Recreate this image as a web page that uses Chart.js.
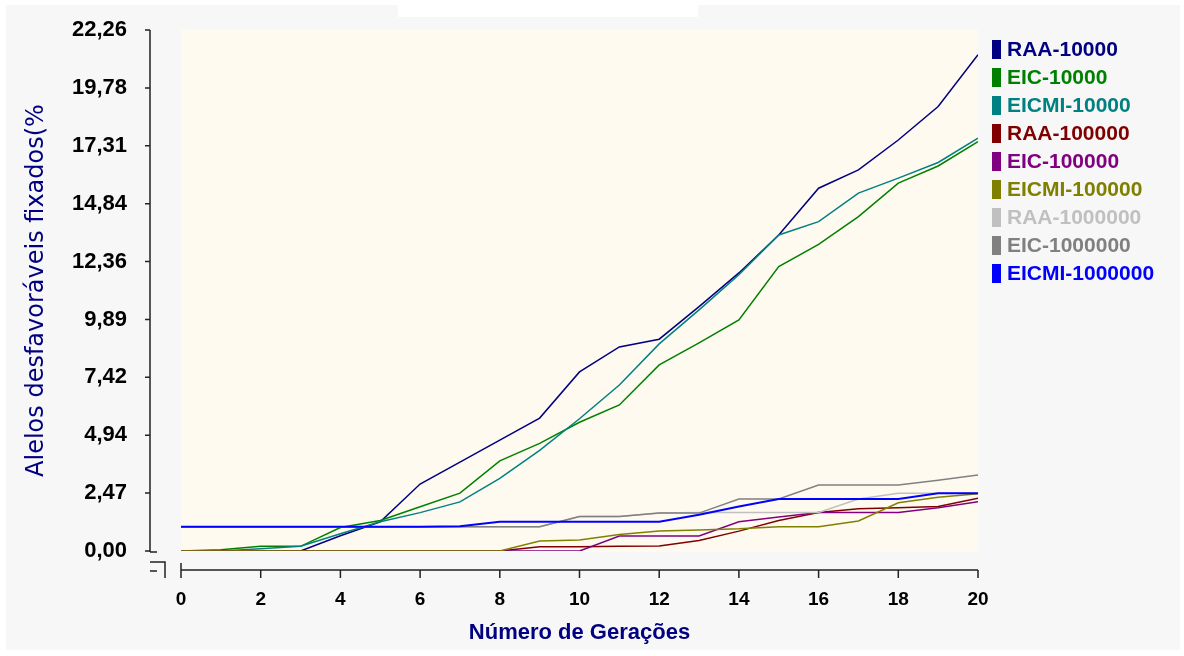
<!DOCTYPE html>
<html>
<head>
<meta charset="utf-8">
<script src="https://cdn.jsdelivr.net/npm/chart.js@4.4.1/dist/chart.umd.min.js"></script>
<style>
  html, body { margin: 0; padding: 0; background: #fff; }
  #wrap { width: 1184px; height: 656px; }
</style>
</head>
<body>
<div id="wrap"><canvas id="chart" width="1184" height="656"></canvas></div>
<script>
// Geração (eixo X)
const generations = [0, 1, 2, 3, 4, 5, 6, 7, 8, 9, 10, 11, 12, 13, 14, 15, 16, 17, 18, 19, 20];
const xTickLabels = ['0', '2', '4', '6', '8', '10', '12', '14', '16', '18', '20'];

// Eixo Y
const yTickValues = [0, 2.4733, 4.9467, 7.42, 9.8933, 12.3667, 14.84, 17.3133, 19.7867, 22.26];
const yTickLabels = ['0,00', '2,47', '4,94', '7,42', '9,89', '12,36', '14,84', '17,31', '19,78', '22,26'];

// Séries (% de alelos desfavoráveis fixados)
const raa10000     = [0, 0, 0, 0, 0.65, 1.25, 2.86, 3.8, 4.74, 5.68, 7.65, 8.72, 9.05, 10.44, 11.88, 13.5, 15.5, 16.28, 17.56, 18.99, 21.2];
const eic10000     = [0, 0.05, 0.2, 0.2, 1.0, 1.3, 1.89, 2.47, 3.85, 4.6, 5.5, 6.24, 7.95, 8.89, 9.87, 12.15, 13.1, 14.29, 15.72, 16.45, 17.49];
const eicmi10000   = [0, 0, 0.1, 0.2, 0.74, 1.25, 1.64, 2.1, 3.1, 4.3, 5.65, 7.09, 8.85, 10.3, 11.8, 13.5, 14.07, 15.29, 15.93, 16.6, 17.64];
const raa100000    = [0, 0, 0, 0, 0, 0, 0, 0, 0, 0.18, 0.18, 0.2, 0.21, 0.45, 0.85, 1.3, 1.64, 1.8, 1.85, 1.9, 2.25];
const eic100000    = [0, 0, 0, 0, 0, 0, 0, 0, 0, 0, 0, 0.64, 0.64, 0.64, 1.25, 1.45, 1.65, 1.65, 1.65, 1.85, 2.1];
const eicmi100000  = [0, 0, 0, 0, 0, 0, 0, 0, 0, 0.43, 0.47, 0.7, 0.85, 0.9, 0.95, 1.04, 1.04, 1.28, 2.06, 2.3, 2.45];
const raa1000000   = [1.04, 1.04, 1.04, 1.04, 1.04, 1.04, 1.04, 1.04, 1.04, 1.04, 1.47, 1.47, 1.62, 1.65, 1.65, 1.65, 1.65, 2.22, 2.47, 2.47, 2.47];
const eic1000000   = [1.04, 1.04, 1.04, 1.04, 1.04, 1.04, 1.04, 1.04, 1.04, 1.04, 1.47, 1.47, 1.62, 1.62, 2.22, 2.22, 2.82, 2.82, 2.82, 3.02, 3.25];
const eicmi1000000 = [1.04, 1.04, 1.04, 1.04, 1.04, 1.04, 1.04, 1.06, 1.25, 1.25, 1.25, 1.25, 1.25, 1.55, 1.9, 2.22, 2.22, 2.22, 2.22, 2.47, 2.47];

const seriesNames = ['RAA-10000', 'EIC-10000', 'EICMI-10000', 'RAA-100000', 'EIC-100000', 'EICMI-100000', 'RAA-1000000', 'EIC-1000000', 'EICMI-1000000'];
const seriesData = [raa10000, eic10000, eicmi10000, raa100000, eic100000, eicmi100000, raa1000000, eic1000000, eicmi1000000];
const seriesColors = ['#000080', '#008000', '#008080', '#800000', '#800080', '#808000', '#c0c0c0', '#808080', '#0000ff'];

const NAVY = '#000080';
const AXIS = '#222';

const datasets = seriesNames.map((name, i) => ({
    label: name,
    data: generations.map((g, k) => ({ x: g, y: seriesData[i][k] })),
    borderColor: seriesColors[i],
    backgroundColor: seriesColors[i],
    borderWidth: i === 8 ? 2 : 1.5,
    pointRadius: 0,
    tension: 0,
    order: seriesNames.length - i   // later series on top
}));

// background panel, plot area, custom axes and legend
const framePlugin = {
    id: 'frame',
    beforeDraw(chart) {
        const { ctx, chartArea: a } = chart;
        ctx.save();
        ctx.fillStyle = '#ffffff';
        ctx.fillRect(0, 0, chart.width, chart.height);
        ctx.fillStyle = '#f7f7f7';
        ctx.fillRect(6, 5, 1174, 645);
        ctx.fillStyle = '#ffffff';
        ctx.fillRect(398, 0, 300, 17);
        ctx.fillStyle = '#fefaf0';
        ctx.fillRect(a.left, a.top, a.right - a.left, a.bottom - a.top + 1);
        ctx.restore();
    },
    afterDraw(chart) {
        const { ctx, scales: { x, y } } = chart;
        ctx.save();
        ctx.strokeStyle = AXIS;
        ctx.lineWidth = 1.5;

        // y axis
        const yAxisX = 150;
        ctx.beginPath();
        ctx.moveTo(yAxisX, y.getPixelForValue(y.max));
        ctx.lineTo(yAxisX, y.getPixelForValue(0) + 1);
        y.ticks.forEach(t => {
            const py = y.getPixelForValue(t.value);
            ctx.moveTo(yAxisX - 5, py);
            ctx.lineTo(yAxisX, py);
        });
        // foot of y axis + break mark
        const y0 = y.getPixelForValue(0) + 1;
        ctx.moveTo(yAxisX, y0);
        ctx.lineTo(yAxisX + 7, y0);
        ctx.moveTo(yAxisX, y0 + 10);
        ctx.lineTo(yAxisX + 15, y0 + 10);
        ctx.lineTo(yAxisX + 15, y0 + 26);
        ctx.moveTo(yAxisX, y0 + 19);
        ctx.lineTo(yAxisX + 7, y0 + 19);

        // x axis
        const xAxisY = 570;
        ctx.moveTo(x.getPixelForValue(0), xAxisY - 7);
        ctx.lineTo(x.getPixelForValue(0), xAxisY + 8);
        ctx.moveTo(x.getPixelForValue(0), xAxisY);
        ctx.lineTo(x.getPixelForValue(20), xAxisY);
        x.ticks.forEach(t => {
            const px = x.getPixelForValue(t.value);
            ctx.moveTo(px, xAxisY);
            ctx.lineTo(px, xAxisY + 8);
        });
        ctx.stroke();

        // legend
        ctx.font = 'bold 21px "Liberation Sans", Arial, sans-serif';
        ctx.textBaseline = 'middle';
        ctx.textAlign = 'left';
        chart.data.datasets.forEach((ds, i) => {
            const cy = 49 + i * 28;
            ctx.fillStyle = ds.borderColor;
            ctx.fillRect(992, cy - 9, 9, 19);
            ctx.fillText(ds.label, 1007, cy + 1);
        });
        ctx.restore();
    }
};

new Chart(document.getElementById('chart'), {
    type: 'line',
    data: { datasets: datasets },
    options: {
        responsive: false,
        animation: false,
        layout: { padding: { left: 0, top: 30, right: 206, bottom: 0 } },
        plugins: { legend: { display: false }, tooltip: { enabled: false } },
        scales: {
            x: {
                type: 'linear',
                min: 0,
                max: 20,
                afterFit: s => { s.height = 105; },
                afterBuildTicks: s => { s.ticks = xTickLabels.map(l => ({ value: Number(l) })); },
                grid: { display: false, drawTicks: false },
                border: { display: false },
                ticks: {
                    padding: 37,
                    color: '#000',
                    font: { family: '"Liberation Sans", Arial, sans-serif', size: 19, weight: 'bold' },
                    callback: (v, i) => xTickLabels[i]
                },
                title: {
                    display: true,
                    text: 'Número de Gerações',
                    color: NAVY,
                    font: { family: '"Liberation Sans", Arial, sans-serif', size: 22, weight: 'bold' },
                    padding: { top: 0, bottom: 10 }
                }
            },
            y: {
                min: 0,
                max: 22.26,
                afterFit: s => { s.width = 181; s.paddingTop = 0; s.paddingBottom = 0; },
                afterBuildTicks: s => { s.ticks = yTickValues.map(v => ({ value: v })); },
                grid: { display: false, drawTicks: false },
                border: { display: false },
                ticks: {
                    padding: 54,
                    color: '#000',
                    font: { family: '"Liberation Sans", Arial, sans-serif', size: 22, weight: 'bold' },
                    callback: (v, i) => yTickLabels[i]
                },
                title: {
                    display: true,
                    text: 'Alelos desfavoráveis fixados(%',
                    color: NAVY,
                    font: { family: '"DejaVu Sans", sans-serif', size: 24, weight: 'normal' },
                    padding: { top: 22, bottom: 0 }
                }
            }
        }
    },
    plugins: [framePlugin]
});
</script>
</body>
</html>
